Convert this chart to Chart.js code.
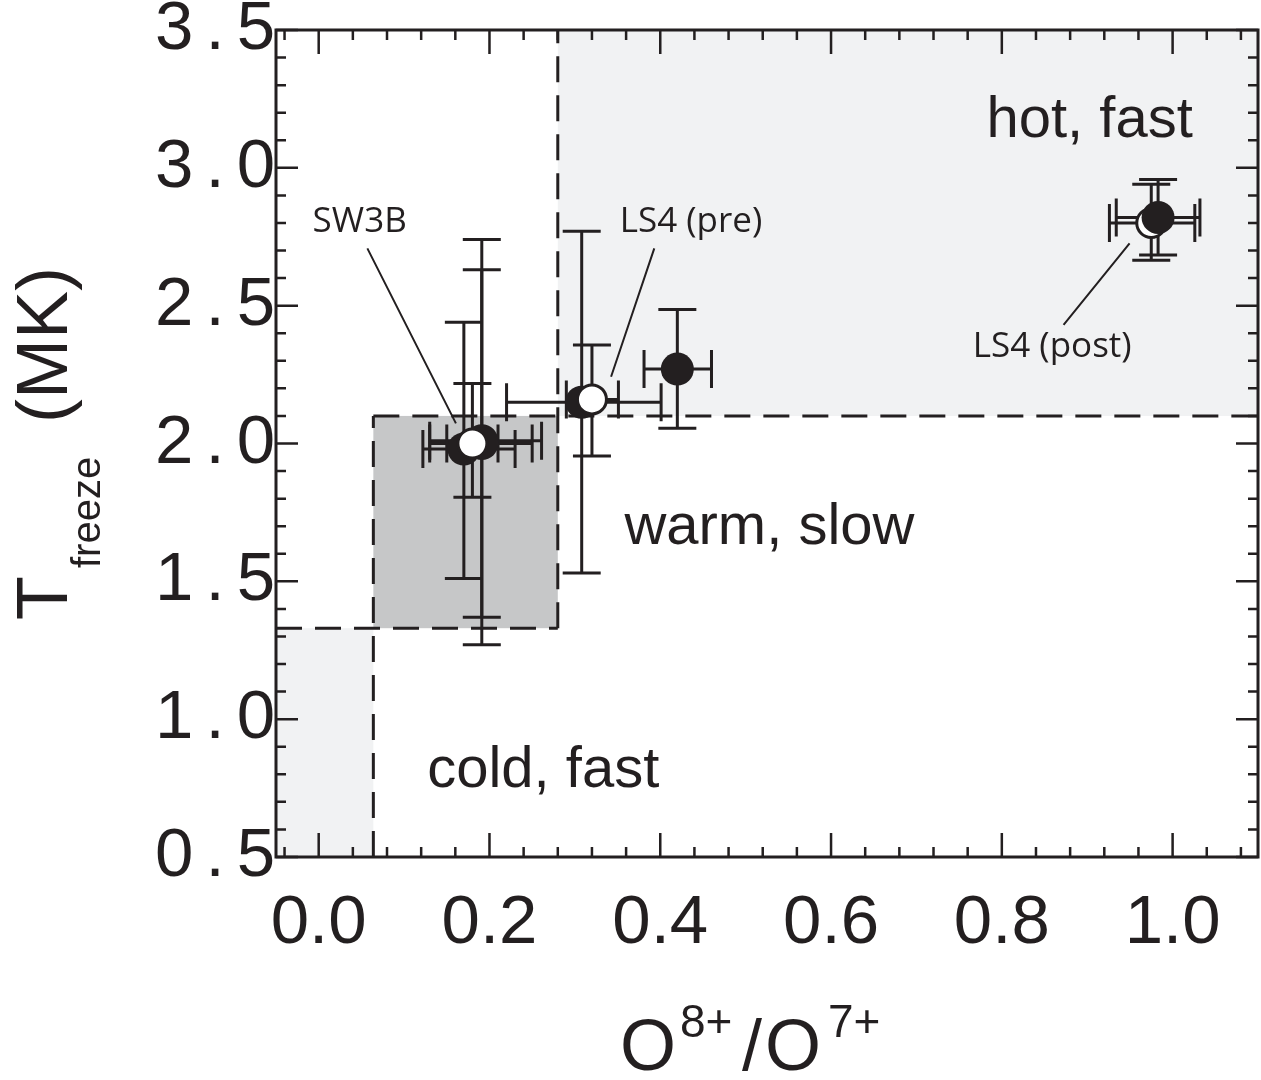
<!DOCTYPE html>
<html>
<head>
<meta charset="utf-8">
<title>Freeze-in temperature vs O8+/O7+</title>
<script src="https://cdn.jsdelivr.net/npm/chart.js@4.4.0/dist/chart.umd.min.js"></script>
<style>
  html, body { margin: 0; padding: 0; background: #ffffff; }
  #wrap { width: 1261px; height: 1080px; position: relative; }
  canvas { display: block; }
</style>
</head>
<body>
<div id="wrap"><canvas id="chart" width="1261" height="1080"></canvas></div>
<script>
// ---- Data -------------------------------------------------------------
// Filled symbols (SW3B cluster, LS4 pre, intermediate interval)
const filledX   = [0.170, 0.191, 0.191, 0.308, 0.420];
const filledY   = [1.98,  2.01,  2.00,  2.15,  2.27];
const filledXLo = [0.122, 0.130, 0.130, 0.220, 0.381];
const filledXHi = [0.230, 0.261, 0.250, 0.401, 0.460];
const filledYLo = [1.51,  1.27,  1.37,  1.53,  2.055];
const filledYHi = [2.44,  2.74,  2.63,  2.77,  2.486];

// Open symbols (SW3B, LS4 pre, LS4 post)
const openX   = [0.180, 0.320, 0.975];
const openY   = [2.00,  2.16,  2.80];
const openXLo = [0.150, 0.290, 0.926];
const openXHi = [0.210, 0.351, 1.026];
const openYLo = [1.805, 1.955, 2.665];
const openYHi = [2.218, 2.357, 2.940];

// Filled symbol of LS4 (post), drawn over its open companion
const postX   = [0.983];
const postY   = [2.82];
const postXLo = [0.934];
const postXHi = [1.032];
const postYLo = [2.684];
const postYHi = [2.958];

// Regime boxes: [x0, x1] x [y0, y1]
const regionX0 = [0.28, 0.064, -0.05];
const regionX1 = [1.10, 0.28, 0.064];
const regionY0 = [2.10, 1.33, 0.50];
const regionY1 = [3.50, 2.10, 1.33];

// Dashed regime boundaries (segments in data units)
const boundX0 = [0.28, 0.064, -0.05, 0.064];
const boundY0 = [1.33, 2.10, 1.33, 0.50];
const boundX1 = [0.28, 1.10, 0.28, 0.064];
const boundY1 = [3.50, 2.10, 1.33, 2.10];

// Region captions (left edge, baseline)
const captionText = ['hot, fast', 'warm, slow', 'cold, fast'];
const captionX = [0.782, 0.358, 0.127];
const captionY = [3.111, 1.635, 0.754];

// Event labels with leader lines
const eventText  = ['SW3B', 'LS4 (pre)', 'LS4 (post)'];
const eventX     = [0.048, 0.436, 0.859];
const eventY     = [2.767, 2.767, 2.314];
const leaderX0   = [0.057, 0.393, 0.9496];
const leaderY0   = [2.708, 2.708, 2.726];
const leaderX1   = [0.1607, 0.3424, 0.8723];
const leaderY1   = [2.073, 2.242, 2.430];

// Axis ranges and tick labels
const xMin = -0.05, xMax = 1.10, xStep = 0.2;
const yMin = 0.5,  yMax = 3.5,  yStep = 0.5;

// ---- Styling ------------------------------------------------------------
const INK = '#231f20';
const LIGHT = '#f1f2f3';
const DARK = '#c6c7c8';
const regionColors = [LIGHT, DARK, LIGHT];
const SANS = '"Liberation Sans", Arial, Helvetica, sans-serif';
const LABEL = '"Open Sans", "Noto Sans", sans-serif';
const Y_LABEL_TRACKING = 12;   // extra letter spacing of the y tick labels
const FRAME = { left: 276, top: 30, right: 1258, bottom: 857 };

// Linear scale whose tick labels are drawn with extra letter spacing
class TrackedLinearScale extends Chart.LinearScale {
  drawLabels(chartArea) {
    const ctx = this.ctx;
    ctx.save();
    ctx.letterSpacing = Y_LABEL_TRACKING + 'px';
    super.drawLabels(chartArea);
    ctx.restore();
  }
}
TrackedLinearScale.id = 'trackedLinear';
TrackedLinearScale.defaults = Chart.LinearScale.defaults;
Chart.register(TrackedLinearScale);

function pts(xs, ys) { return xs.map((x, i) => ({ x: x, y: ys[i] })); }

function drawErrorBars(ctx, xs, ys, xlo, xhi, ylo, yhi, sx, sy) {
  const cap = 19;
  ctx.save();
  ctx.strokeStyle = INK;
  ctx.lineWidth = 3;
  ctx.lineCap = 'butt';
  for (let i = 0; i < xs.length; i++) {
    const px = sx.getPixelForValue(xs[i]);
    const py = sy.getPixelForValue(ys[i]);
    const x0 = sx.getPixelForValue(xlo[i]), x1 = sx.getPixelForValue(xhi[i]);
    const y0 = sy.getPixelForValue(ylo[i]), y1 = sy.getPixelForValue(yhi[i]);
    ctx.beginPath();
    ctx.moveTo(px, y0); ctx.lineTo(px, y1);
    ctx.moveTo(px - cap, y0); ctx.lineTo(px + cap, y0);
    ctx.moveTo(px - cap, y1); ctx.lineTo(px + cap, y1);
    ctx.moveTo(x0, py); ctx.lineTo(x1, py);
    ctx.moveTo(x0, py - cap); ctx.lineTo(x0, py + cap);
    ctx.moveTo(x1, py - cap); ctx.lineTo(x1, py + cap);
    ctx.stroke();
  }
  ctx.restore();
}

// keep the plot frame fixed: no extra room for overhanging tick labels
function noPadding(s) {
  s.paddingLeft = 0; s.paddingRight = 0; s.paddingTop = 0; s.paddingBottom = 0;
}

const decor = {
  id: 'decor',
  afterLayout(chart) {
    // stretch the x axis out to the right edge of the frame
    const a = chart.chartArea, x = chart.scales.x;
    if (a.right !== FRAME.right) {
      a.right = FRAME.right;
      a.width = a.right - a.left;
      x.right = FRAME.right;
      x.width = x.right - x.left;
      x.configure();
    }
  },
  beforeDatasetsDraw(chart) {
    const { ctx, scales: { x, y } } = chart;
    // regime boxes
    ctx.save();
    for (let i = 0; i < regionX0.length; i++) {
      const l = x.getPixelForValue(regionX0[i]), r = x.getPixelForValue(regionX1[i]);
      const t = y.getPixelForValue(regionY1[i]), b = y.getPixelForValue(regionY0[i]);
      ctx.fillStyle = regionColors[i];
      ctx.fillRect(l, t, r - l, b - t);
    }
    // dashed boundaries
    ctx.strokeStyle = INK;
    ctx.lineWidth = 3;
    ctx.setLineDash([26, 13]);
    for (let i = 0; i < boundX0.length; i++) {
      ctx.beginPath();
      ctx.moveTo(x.getPixelForValue(boundX0[i]), y.getPixelForValue(boundY0[i]));
      ctx.lineTo(x.getPixelForValue(boundX1[i]), y.getPixelForValue(boundY1[i]));
      ctx.stroke();
    }
    ctx.setLineDash([]);
    ctx.restore();
    // error bars beneath the symbols
    drawErrorBars(ctx, filledX, filledY, filledXLo, filledXHi, filledYLo, filledYHi, x, y);
    drawErrorBars(ctx, openX, openY, openXLo, openXHi, openYLo, openYHi, x, y);
    drawErrorBars(ctx, postX, postY, postXLo, postXHi, postYLo, postYHi, x, y);
  },
  afterDatasetsDraw(chart) {
    const { ctx, chartArea: a, scales: { x, y } } = chart;
    ctx.save();
    // frame
    ctx.strokeStyle = INK;
    ctx.lineWidth = 3;
    ctx.strokeRect(a.left, a.top, a.right - a.left, a.bottom - a.top);
    // inward ticks on all four sides
    ctx.lineWidth = 2.5;
    ctx.beginPath();
    for (let i = -1; i <= 28; i++) {
      const v = i * 0.04;
      if (v < xMin || v > xMax) continue;
      const len = (i % 5 === 0) ? 24 : 10;
      const px = x.getPixelForValue(v);
      ctx.moveTo(px, a.bottom); ctx.lineTo(px, a.bottom - len);
      ctx.moveTo(px, a.top); ctx.lineTo(px, a.top + len);
    }
    for (let i = 5; i <= 35; i++) {
      const v = i / 10;
      const len = (i % 5 === 0) ? 22 : 10;
      const py = y.getPixelForValue(v);
      ctx.moveTo(a.left, py); ctx.lineTo(a.left + len, py);
      ctx.moveTo(a.right, py); ctx.lineTo(a.right - len, py);
    }
    ctx.stroke();

    // region captions
    ctx.fillStyle = INK;
    ctx.textAlign = 'left';
    ctx.textBaseline = 'alphabetic';
    ctx.font = '58px ' + SANS;
    for (let i = 0; i < captionText.length; i++) {
      ctx.fillText(captionText[i], x.getPixelForValue(captionX[i]), y.getPixelForValue(captionY[i]));
    }

    // event labels and leader lines
    ctx.font = '35px ' + LABEL;
    ctx.textAlign = 'center';
    for (let i = 0; i < eventText.length; i++) {
      ctx.fillText(eventText[i], x.getPixelForValue(eventX[i]), y.getPixelForValue(eventY[i]));
    }
    ctx.lineWidth = 2;
    ctx.beginPath();
    for (let i = 0; i < leaderX0.length; i++) {
      ctx.moveTo(x.getPixelForValue(leaderX0[i]), y.getPixelForValue(leaderY0[i]));
      ctx.lineTo(x.getPixelForValue(leaderX1[i]), y.getPixelForValue(leaderY1[i]));
    }
    ctx.stroke();

    // y-axis title: T_freeze (MK)
    ctx.textAlign = 'left';
    ctx.save();
    ctx.translate(67, 620);
    ctx.rotate(-Math.PI / 2);
    ctx.font = '72px ' + SANS;
    ctx.fillText('T', 0, 0);
    ctx.font = '40px ' + SANS;
    ctx.fillText('freeze', 52, 33);
    ctx.font = '72px ' + SANS;
    ctx.fillText('(MK)', 197, 0);
    ctx.restore();

    // x-axis title: O^8+/O^7+
    const base = 1070, sup = 1037;
    ctx.font = '72px ' + SANS;
    ctx.fillText('O', 620, base);
    ctx.font = '46px ' + SANS;
    ctx.fillText('8+', 680, sup);
    ctx.font = '72px ' + SANS;
    ctx.fillText('/', 742, base);
    ctx.fillText('O', 765, base);
    ctx.font = '46px ' + SANS;
    ctx.fillText('7+', 828, sup);
    ctx.restore();
  }
};

new Chart(document.getElementById('chart').getContext('2d'), {
  type: 'scatter',
  data: {
    datasets: [
      { label: 'LS4 post', data: pts(postX, postY), order: 1,
        pointRadius: 16.5, backgroundColor: INK, borderWidth: 0 },
      { label: 'open', data: pts(openX, openY), order: 2,
        pointRadius: 14.5, backgroundColor: '#ffffff', borderColor: INK, borderWidth: 3 },
      { label: 'filled', data: pts(filledX, filledY), order: 3,
        pointRadius: 16.5, backgroundColor: INK, borderWidth: 0 }
    ]
  },
  options: {
    responsive: false,
    animation: false,
    devicePixelRatio: 1,
    events: [],
    layout: { padding: { top: FRAME.top, right: 3, left: 0, bottom: 0 } },
    plugins: { legend: { display: false }, tooltip: { enabled: false } },
    scales: {
      x: {
        type: 'linear', min: xMin, max: xMax,
        grid: { display: false, drawTicks: false },
        border: { display: false },
        ticks: {
          stepSize: xStep, includeBounds: false, autoSkip: false, maxRotation: 0,
          callback: v => v.toFixed(1),
          color: INK, padding: 26,
          font: { family: SANS, size: 69 }
        },
        afterFit: s => { s.height = 1080 - FRAME.bottom; noPadding(s); }
      },
      y: {
        type: 'trackedLinear', min: yMin, max: yMax,
        grid: { display: false, drawTicks: false },
        border: { display: false },
        ticks: {
          stepSize: yStep, includeBounds: false, autoSkip: false,
          callback: v => v.toFixed(1),
          color: INK, padding: 1 - Y_LABEL_TRACKING,
          font: { family: SANS, size: 69 }
        },
        afterFit: s => { s.width = FRAME.left; noPadding(s); }
      }
    }
  },
  plugins: [decor]
});
</script>
</body>
</html>
